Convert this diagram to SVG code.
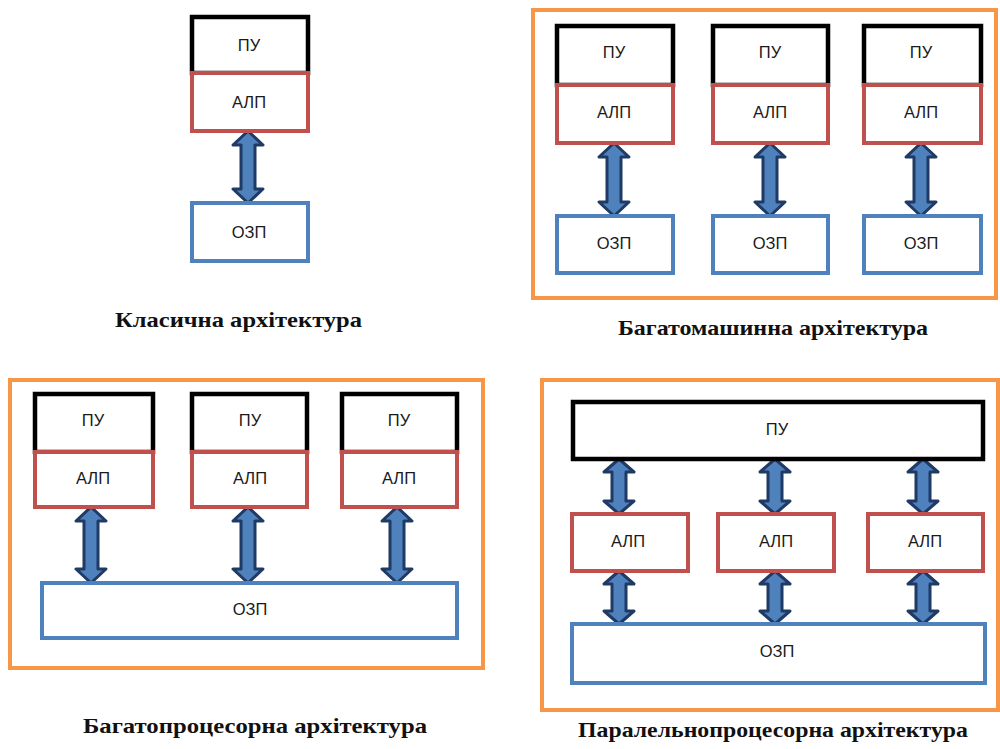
<svg xmlns="http://www.w3.org/2000/svg" width="1000" height="749" viewBox="0 0 1000 749">
<style>
.frame{fill:none;stroke:#f79646;stroke-width:4}
.pu{fill:#fff;stroke:#000;stroke-width:4.5}
.alp{fill:#fff;stroke:#c0504d;stroke-width:4}
.ozp{fill:#fff;stroke:#4f81bd;stroke-width:4}
.lbl{font-family:"Liberation Sans",Arial,sans-serif;font-size:16.5px;fill:#1a1a1a;text-anchor:middle;dominant-baseline:central}
.cap{font-family:"Liberation Serif","Times New Roman",serif;font-weight:bold;font-size:21px;fill:#111}
.arr{fill:#4f81bd;stroke:#1f3a64;stroke-width:3;stroke-linejoin:round}
</style>
<rect width="1000" height="749" fill="#fff"/>
<g id="frames">
<rect class="frame" x="533" y="10" width="463" height="288"/>
<rect class="frame" x="10" y="380" width="473" height="288"/>
<rect class="frame" x="542" y="380" width="456" height="330"/>
</g>
<g id="connectors">
<path class="arr" d="M248,131 L263,145 L255,145 L255,189 L263,189 L248,203 L233,189 L241,189 L241,145 L233,145 Z"/>
<path class="arr" d="M614,143 L629,157 L621,157 L621,202 L629,202 L614,216 L599,202 L607,202 L607,157 L599,157 Z"/>
<path class="arr" d="M770,143 L785,157 L777,157 L777,202 L785,202 L770,216 L755,202 L763,202 L763,157 L755,157 Z"/>
<path class="arr" d="M921,143 L936,157 L928,157 L928,202 L936,202 L921,216 L906,202 L914,202 L914,157 L906,157 Z"/>
<path class="arr" d="M91,507 L106,521 L98,521 L98,569 L106,569 L91,583 L76,569 L84,569 L84,521 L76,521 Z"/>
<path class="arr" d="M248,507 L263,521 L255,521 L255,569 L263,569 L248,583 L233,569 L241,569 L241,521 L233,521 Z"/>
<path class="arr" d="M397,507 L412,521 L404,521 L404,569 L412,569 L397,583 L382,569 L390,569 L390,521 L382,521 Z"/>
<path class="arr" d="M619,459 L634,472 L626,472 L626,501 L634,501 L619,514 L604,501 L612,501 L612,472 L604,472 Z"/>
<path class="arr" d="M775,459 L790,472 L782,472 L782,501 L790,501 L775,514 L760,501 L768,501 L768,472 L760,472 Z"/>
<path class="arr" d="M923,459 L938,472 L930,472 L930,501 L938,501 L923,514 L908,501 L916,501 L916,472 L908,472 Z"/>
<path class="arr" d="M619,571 L634,584 L626,584 L626,611 L634,611 L619,624 L604,611 L612,611 L612,584 L604,584 Z"/>
<path class="arr" d="M775,571 L790,584 L782,584 L782,611 L790,611 L775,624 L760,611 L768,611 L768,584 L760,584 Z"/>
<path class="arr" d="M923,571 L938,584 L930,584 L930,611 L938,611 L923,624 L908,611 L916,611 L916,584 L908,584 Z"/>
</g>
<g id="classic-cpu">
<rect class="pu" x="192" y="17" width="116" height="56"/>
<rect class="alp" x="192" y="73" width="116" height="58"/>
<text class="lbl" x="249" y="45">ПУ</text>
<text class="lbl" x="249" y="102">АЛП</text>
</g>
<g id="classic-ozp">
<rect class="ozp" x="192" y="203" width="116" height="58"/>
<text class="lbl" x="249" y="232">ОЗП</text>
</g>
<g id="mm-cpu1">
<rect class="pu" x="557" y="26" width="116" height="59"/>
<rect class="alp" x="557" y="85" width="116" height="58"/>
<text class="lbl" x="614" y="52">ПУ</text>
<text class="lbl" x="614" y="112">АЛП</text>
</g>
<g id="mm-cpu2">
<rect class="pu" x="713" y="26" width="115" height="59"/>
<rect class="alp" x="713" y="85" width="115" height="58"/>
<text class="lbl" x="770" y="52">ПУ</text>
<text class="lbl" x="770" y="112">АЛП</text>
</g>
<g id="mm-cpu3">
<rect class="pu" x="864" y="26" width="117" height="59"/>
<rect class="alp" x="864" y="85" width="117" height="58"/>
<text class="lbl" x="921" y="52">ПУ</text>
<text class="lbl" x="921" y="112">АЛП</text>
</g>
<g id="mm-ozp1"><rect class="ozp" x="557" y="216" width="116" height="57"/><text class="lbl" x="614" y="243">ОЗП</text></g>
<g id="mm-ozp2"><rect class="ozp" x="713" y="216" width="115" height="57"/><text class="lbl" x="770" y="243">ОЗП</text></g>
<g id="mm-ozp3"><rect class="ozp" x="864" y="216" width="117" height="57"/><text class="lbl" x="921" y="243">ОЗП</text></g>
<g id="mp-cpu1">
<rect class="pu" x="35" y="394" width="118" height="58"/>
<rect class="alp" x="35" y="452" width="118" height="55"/>
<text class="lbl" x="93" y="420">ПУ</text>
<text class="lbl" x="93" y="478">АЛП</text>
</g>
<g id="mp-cpu2">
<rect class="pu" x="192" y="394" width="115" height="58"/>
<rect class="alp" x="192" y="452" width="115" height="55"/>
<text class="lbl" x="250" y="420">ПУ</text>
<text class="lbl" x="250" y="478">АЛП</text>
</g>
<g id="mp-cpu3">
<rect class="pu" x="342" y="394" width="115" height="58"/>
<rect class="alp" x="342" y="452" width="115" height="55"/>
<text class="lbl" x="399" y="420">ПУ</text>
<text class="lbl" x="399" y="478">АЛП</text>
</g>
<g id="mp-ozp">
<rect class="ozp" x="42" y="583" width="415" height="55"/>
<text class="lbl" x="250" y="609">ОЗП</text>
</g>
<g id="pp-pu">
<rect class="pu" x="573" y="402" width="410" height="57"/>
<text class="lbl" x="777" y="429">ПУ</text>
</g>
<g id="pp-alp1"><rect class="alp" x="572" y="514" width="116" height="57"/><text class="lbl" x="628" y="541">АЛП</text></g>
<g id="pp-alp2"><rect class="alp" x="718" y="514" width="116" height="57"/><text class="lbl" x="776" y="541">АЛП</text></g>
<g id="pp-alp3"><rect class="alp" x="868" y="514" width="115" height="57"/><text class="lbl" x="925" y="541">АЛП</text></g>
<g id="pp-ozp">
<rect class="ozp" x="572" y="624" width="413" height="59"/>
<text class="lbl" x="777" y="651">ОЗП</text>
</g>
<g id="captions">
<text class="cap" x="115" y="327" textLength="247" lengthAdjust="spacingAndGlyphs">Класична архітектура</text>
<text class="cap" x="618" y="335" textLength="310" lengthAdjust="spacingAndGlyphs">Багатомашинна архітектура</text>
<text class="cap" x="83" y="733" textLength="344" lengthAdjust="spacingAndGlyphs">Багатопроцесорна архітектура</text>
<text class="cap" x="578" y="737" textLength="390" lengthAdjust="spacingAndGlyphs">Паралельнопроцесорна архітектура</text>
</g>
</svg>
